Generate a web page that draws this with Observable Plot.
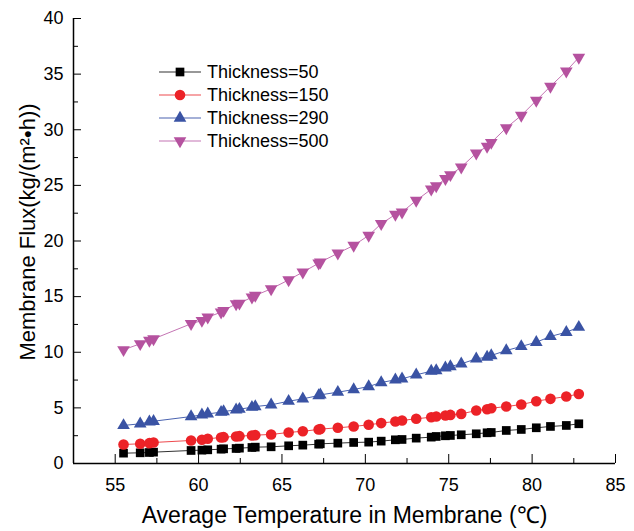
<!DOCTYPE html>
<html><head><meta charset="utf-8">
<script src="https://cdn.jsdelivr.net/npm/d3@7"></script>
<script src="https://cdn.jsdelivr.net/npm/@observablehq/plot@0.6"></script>
<style>
body{margin:0;background:#fff;}
#wrap{position:relative;width:634px;height:531px;font-family:"Liberation Sans",Arial,sans-serif;}
#legend{position:absolute;left:159px;top:60px;}
.row{display:flex;align-items:center;height:23px;font-size:18px;color:#000;line-height:1;}
.row svg{margin-right:6px;display:block}
</style></head><body><div id="wrap"><div id="legend"></div></div>
<script>
// ---- data ----
const temps = [55.5, 56.5, 57.05, 57.3, 59.55, 60.2, 60.55, 61.35, 61.5, 62.25, 62.45, 63.2, 63.4, 64.35, 65.4, 66.25, 67.2, 67.3, 68.35, 69.3, 70.2, 70.95, 71.8, 72.2, 73.05, 73.95, 74.25, 74.8, 75.1, 75.75, 76.65, 77.3, 77.55, 78.45, 79.35, 80.25, 81.1, 82.05, 82.8];
const flux50  = [0.93, 0.96, 0.99, 1.02, 1.17, 1.2, 1.23, 1.29, 1.32, 1.35, 1.38, 1.44, 1.47, 1.5, 1.59, 1.65, 1.74, 1.77, 1.83, 1.89, 1.92, 2.01, 2.13, 2.16, 2.28, 2.37, 2.43, 2.49, 2.52, 2.58, 2.67, 2.76, 2.79, 2.97, 3.06, 3.21, 3.33, 3.42, 3.57];
const flux150 = [1.71, 1.77, 1.83, 1.89, 2.07, 2.13, 2.22, 2.34, 2.37, 2.43, 2.46, 2.52, 2.55, 2.61, 2.79, 2.9, 3.06, 3.09, 3.21, 3.33, 3.48, 3.63, 3.78, 3.87, 4.02, 4.16, 4.22, 4.31, 4.37, 4.46, 4.76, 4.88, 4.97, 5.12, 5.3, 5.6, 5.81, 6.02, 6.25];
const flux290 = [3.42, 3.57, 3.74, 3.8, 4.22, 4.37, 4.46, 4.61, 4.67, 4.82, 4.88, 5.06, 5.12, 5.27, 5.6, 5.81, 6.11, 6.17, 6.41, 6.65, 6.92, 7.28, 7.52, 7.61, 7.97, 8.3, 8.36, 8.6, 8.72, 8.96, 9.41, 9.56, 9.71, 10.16, 10.52, 10.9, 11.42, 11.8, 12.25];
const flux500 = [10.22, 10.76, 11.06, 11.2, 12.56, 12.85, 13.15, 13.6, 13.75, 14.35, 14.4, 14.95, 15.1, 15.7, 16.5, 17.2, 18.0, 18.1, 18.9, 19.6, 20.5, 21.55, 22.38, 22.6, 23.64, 24.65, 24.95, 25.6, 25.95, 26.64, 27.9, 28.5, 28.85, 30.17, 31.28, 32.63, 33.9, 35.27, 36.5];
const seriesNames = ["Thickness=50", "Thickness=150", "Thickness=290", "Thickness=500"];
const xTicks = [55, 60, 65, 70, 75, 80, 85];
const xMinor = [57.5, 62.5, 67.5, 72.5, 77.5, 82.5];
const yTicks = [0, 5, 10, 15, 20, 25, 30, 35, 40];
const yMinor = [2.5, 7.5, 12.5, 17.5, 22.5, 27.5, 32.5, 37.5];
const xDomain = [52.5, 85];
const yDomain = [0, 40];
const xTitle = "Average Temperature in Membrane (\u2103)";
const yTitle = "Membrane Flux(kg/(m\u00B2\u2022h))";

// ---- styles ----
const styles = [
  {fill: "#000000", line: "#333333", symbol: "square", r: 4.9, rotate: 0},
  {fill: "#ec2227", line: "#ee4a4e", symbol: "circle", r: 5.3, rotate: 0},
  {fill: "#3a53a4", line: "#4a63b0", symbol: "triangle", r: 4.7, rotate: 0},
  {fill: "#b5529f", line: "#c474b3", symbol: "triangle", r: 4.7, rotate: 180}
];
const allFlux = [flux50, flux150, flux290, flux500];
const table = allFlux.map((arr, s) => arr.map((v, i) => ({series: seriesNames[s], t: temps[i], f: v})));

const marks = [
  Plot.ruleX([xDomain[0]], {stroke: "#000", strokeWidth: 1.5}),
  Plot.ruleY([yDomain[0]], {stroke: "#000", strokeWidth: 1.5}),
  Plot.axisY({ticks: yTicks, tickSize: 0, tickPadding: 10, fontSize: 18, label: null}),
  Plot.axisY({ticks: yTicks, tickSize: 8, dx: 8, fill: "none", label: null}),
  Plot.axisY({ticks: yMinor, tickSize: 5, dx: 5, fill: "none", label: null}),
  Plot.axisX({ticks: xTicks, tickSize: 0, tickPadding: 15, fontSize: 18, label: null}),
  Plot.axisX({ticks: xTicks, tickSize: 9, dy: -9, fill: "none", label: null}),
  Plot.axisX({ticks: xMinor, tickSize: 5, dy: -5, fill: "none", label: null}),
];
table.forEach((data, s) => {
  const st = styles[s];
  marks.push(Plot.line(data, {x: "t", y: "f", stroke: st.line, strokeWidth: 1}));
  marks.push(Plot.dot(data, {x: "t", y: "f", symbol: st.symbol, r: st.r, fill: st.fill, stroke: "none", rotate: st.rotate}));
});
marks.push(Plot.text([yTitle], {text: d => d, frameAnchor: "left", textAnchor: "middle", rotate: -90, dx: -46, dy: -9, fontSize: 22, fill: "#000"}));
marks.push(Plot.text([xTitle], {text: d => d, frameAnchor: "bottom", textAnchor: "middle", dy: 59, fontSize: 23, fill: "#000"}));

const chart = Plot.plot({
  width: 634, height: 531,
  marginLeft: 73, marginRight: 19, marginTop: 18, marginBottom: 68,
  style: {fontFamily: "'Liberation Sans', Arial, sans-serif", fontSize: "18px", color: "#000", background: "#fff", overflow: "visible"},
  x: {domain: xDomain, label: null},
  y: {domain: yDomain, label: null},
  marks
});
const wrap = document.getElementById("wrap");
wrap.insertBefore(chart, wrap.firstChild);

// ---- legend ----
const legend = d3.select("#legend");
const symbolTypes = {square: d3.symbolSquare, circle: d3.symbolCircle, triangle: d3.symbolTriangle};
seriesNames.forEach((name, s) => {
  const st = styles[s];
  const row = legend.append("div").attr("class", "row");
  const svg = row.append("svg").attr("width", 42).attr("height", 16);
  svg.append("line").attr("x1", 0).attr("x2", 42).attr("y1", 8).attr("y2", 8).attr("stroke", st.line).attr("stroke-width", 1.2);
  svg.append("path")
    .attr("d", d3.symbol(symbolTypes[st.symbol], Math.PI * st.r * st.r)())
    .attr("transform", `translate(21,8) rotate(${st.rotate})`)
    .attr("fill", st.fill);
  row.append("span").text(name);
});
</script>
</body></html>
